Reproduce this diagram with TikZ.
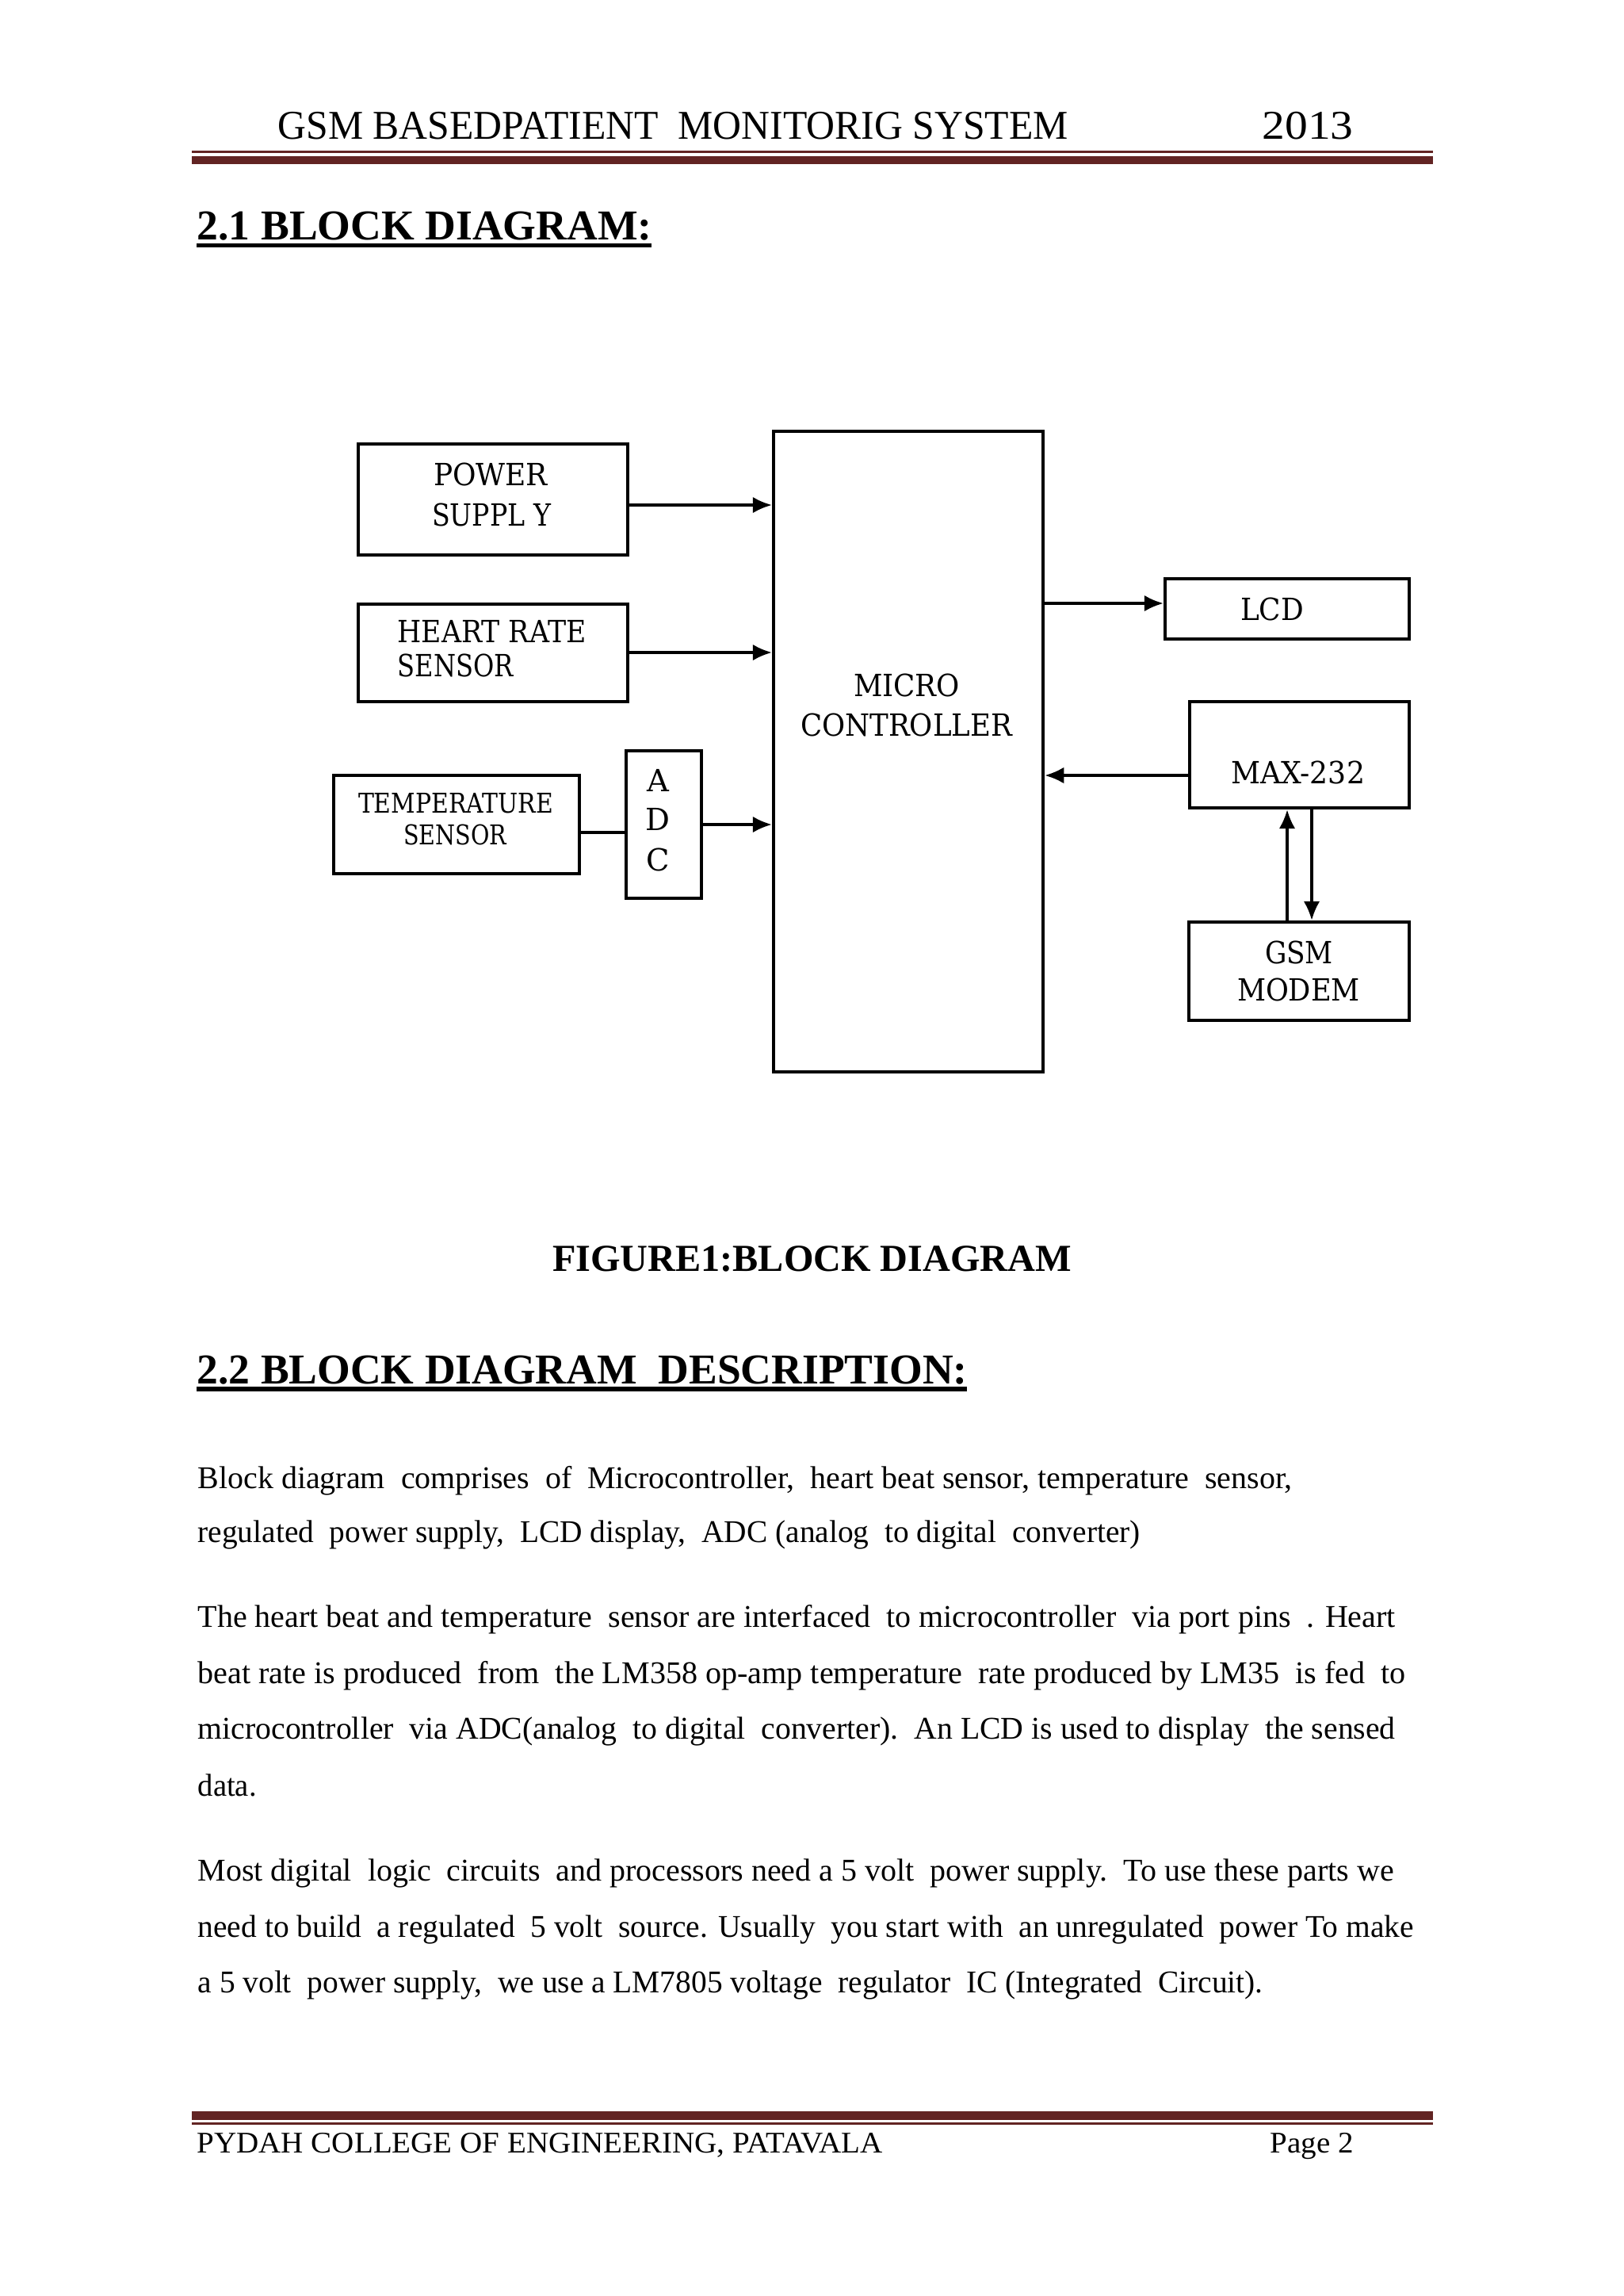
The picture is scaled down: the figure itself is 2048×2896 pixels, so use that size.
\documentclass[tikz,border=0pt]{standalone}
\usepackage{fontspec}
\setmainfont{Liberation Serif}
\newfontfamily\diagfont{DejaVu Serif}
\usepackage{graphicx}
\usetikzlibrary{arrows.meta,fit}
\definecolor{rulebrown}{HTML}{622423}
\newlength\fitlen
\newcommand\fitto[2]{\settowidth\fitlen{#2}\pgfmathsetmacro\fitsx{#1*0.29067/\fitlen}\scalebox{\fitsx}[1]{#2}}
\newcommand\dsp{\ \ }
\tikzset{
  blk/.style={draw, line width=1.25pt, inner sep=0pt},
  conn/.style={line width=1pt},
  arr/.style={line width=1pt, -{Latex[length=7pt,width=6pt]}},
  dtext/.style={font=\diagfont\fontsize{11.2}{13}\selectfont, inner sep=0pt, anchor=base},
  dtextl/.style={dtext, anchor=base west},
  smalld/.style={font=\diagfont\fontsize{10}{12}\selectfont, inner sep=0pt, anchor=base},
  body/.style={font=\fontsize{11.6}{14}\selectfont, inner sep=0pt, anchor=base west},
  headtext/.style={font=\fontsize{15}{16}\selectfont, inner sep=0pt, anchor=base west},
  sect/.style={font=\bfseries\fontsize{15.6}{18}\selectfont, inner sep=0pt, anchor=base west},
  foot/.style={font=\fontsize{11}{13}\selectfont, inner sep=0pt, anchor=base west},
}
\begin{document}
\begin{tikzpicture}[x=0.29067pt, y=-0.29067pt]
\useasboundingbox (0,0) rectangle (2048,2896);
\fill[white] (0,0) rectangle (2048,2896);

% header
\node[headtext] (hd) at (350,175) {\fitto{997}{GSM BASEDPATIENT\dsp MONITORIG SYSTEM}};
\node[headtext] (yr) at (1592,175) {\fitto{115}{2013}};
\fill[rulebrown] (242,190) rectangle (1808,193);
\fill[rulebrown] (242,196.5) rectangle (1808,206.5);

% section 2.1
\node[sect] (s1) at (248,302) {\fitto{574}{2.1 BLOCK DIAGRAM:}};
\fill[black] (248,307) rectangle (822,312);

% diagram boxes
\node[blk, fit={(452,560)(792,700)}] (ps) {};
\node[blk, fit={(452,762)(792,885)}] (hr) {};
\node[blk, fit={(421,978)(731,1102)}] (ts) {};
\node[blk, fit={(790,947)(885,1133)}] (adc) {};
\node[blk, fit={(976,544)(1316,1352)}] (mc) {};
\node[blk, fit={(1470,730)(1778,806)}] (lcd) {};
\node[blk, fit={(1501,885)(1778,1019)}] (max) {};
\node[blk, fit={(1500,1163)(1778,1287)}] (gsm) {};

% diagram texts
\node[dtext] (psa) at (619,612) {\fitto{144}{POWER}};
\node[dtext] (psb) at (620,663) {\fitto{150}{SUPPL Y}};
\node[dtextl] (hra) at (501,810) {\fitto{238}{HEART RATE}};
\node[dtextl] (hrb) at (501,853) {\fitto{146}{SENSOR}};
\node[smalld] (tsa) at (575,1025) {\fitto{246}{TEMPERATURE}};
\node[smalld] (tsb) at (574,1065) {\fitto{130}{SENSOR}};
\node[dtext] (adca) at (830,998) {A};
\node[dtext] (adcb) at (830,1047) {D};
\node[dtext] (adcc) at (830,1098) {C};
\node[dtext] (mca) at (1144,878) {\fitto{134}{MICRO}};
\node[dtext] (mcb) at (1143.5,928) {\fitto{267}{CONTROLLER}};
\node[dtext] (lcdt) at (1605,782) {\fitto{80}{LCD}};
\node[dtext] (maxt) at (1637.5,988) {\fitto{169}{MAX-232}};
\node[dtext] (gsma) at (1639,1215) {\fitto{86}{GSM}};
\node[dtext] (gsmb) at (1638.5,1262) {\fitto{155}{MODEM}};

% connectors
\draw[arr] (ps.east |- 0,637) -- (mc.west |- 0,637);
\draw[arr] (hr.east |- 0,823) -- (mc.west |- 0,823);
\draw[conn] (ts.east |- 0,1050) -- (adc.west |- 0,1050);
\draw[arr] (adc.east |- 0,1040) -- (mc.west |- 0,1040);
\draw[arr] (mc.east |- 0,761) -- (lcd.west |- 0,761);
\draw[arr] (max.west |- 0,978) -- (mc.east |- 0,978);
\draw[arr] (gsm.north -| 1624,0) -- (max.south -| 1624,0);
\draw[arr] (max.south -| 1655,0) -- (gsm.north -| 1655,0);

% caption
\node[font=\bfseries\fontsize{14}{16}\selectfont, inner sep=0pt, anchor=base] (cap) at (1024.5,1603) {\fitto{655}{FIGURE1:BLOCK DIAGRAM}};

% section 2.2
\node[sect] (s2) at (248,1745) {\fitto{972}{2.2 BLOCK DIAGRAM\dsp DESCRIPTION:}};
\fill[black] (248,1749) rectangle (1220,1755);

% body
\node[body] (l1) at (249,1877) {\fitto{1381}{Block diagram\dsp comprises\dsp of\dsp Microcontroller,\dsp heart beat sensor, temperature\dsp sensor,}};
\node[body] (l2) at (249,1945) {\fitto{1189}{regulated\dsp power supply,\dsp LCD display,\dsp ADC (analog\dsp to digital\dsp converter)}};
\node[body] (l3) at (249,2052) {\fitto{1511}{The heart beat and temperature\dsp sensor are interfaced\dsp to microcontroller\dsp via port pins\dsp . Heart}};
\node[body] (l4) at (249,2123) {\fitto{1524}{beat rate is produced\dsp from\dsp the LM358 op-amp temperature\dsp rate produced by LM35\dsp is fed\dsp to}};
\node[body] (l5) at (249,2193) {\fitto{1511}{microcontroller\dsp via ADC(analog\dsp to digital\dsp converter).\dsp An LCD is used to display\dsp the sensed}};
\node[body] (l6) at (249,2265) {\fitto{74}{data.}};
\node[body] (l7) at (249,2372) {\fitto{1509}{Most digital\dsp logic\dsp circuits\dsp and processors need a 5 volt\dsp power supply.\dsp To use these parts we}};
\node[body] (l8) at (249,2443) {\fitto{1534}{need to build\dsp a regulated\dsp 5 volt\dsp source. Usually\dsp you start with\dsp an unregulated\dsp power To make}};
\node[body] (l9) at (249,2513) {\fitto{1344}{a 5 volt\dsp power supply,\dsp we use a LM7805 voltage\dsp regulator\dsp IC (Integrated\dsp Circuit).}};

% footer
\fill[rulebrown] (242,2663) rectangle (1808,2674);
\fill[rulebrown] (242,2677) rectangle (1808,2680);
\node[foot] (ft) at (248,2715) {\fitto{865}{PYDAH COLLEGE OF ENGINEERING, PATAVALA}};
\node[foot] (pg) at (1602,2715) {\fitto{105}{Page 2}};
\end{tikzpicture}
\end{document}
